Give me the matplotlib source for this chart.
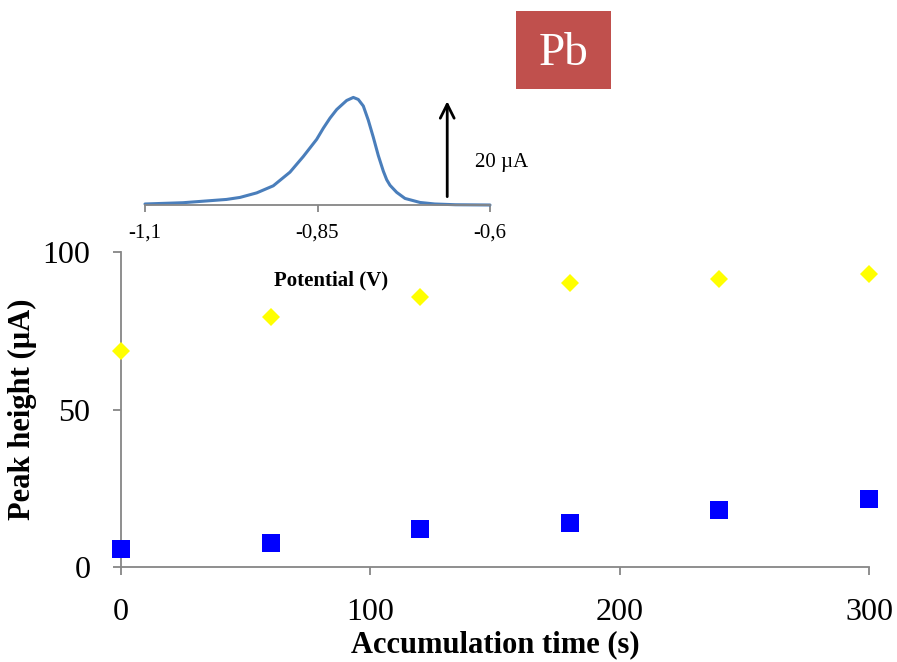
import numpy as np
import matplotlib.pyplot as plt
from matplotlib.patches import Rectangle

plt.rcParams['font.family'] = ['Liberation Serif', 'DejaVu Serif']

# Peak height vs accumulation time
time_s = [0, 60, 120, 180, 240, 300]
peak_yellow = [68.6, 79.4, 85.7, 90.2, 91.4, 93.0]
peak_blue = [5.6, 7.6, 12.1, 14.0, 18.1, 21.6]

# Voltammogram shown in the inset (potential in V, current in uA)
potential = [-1.1, -1.045, -0.982, -0.9623, -0.9381, -0.9141, -0.8899, -0.8706,
             -0.8512, -0.8416, -0.8319, -0.8222, -0.8174, -0.8077, -0.7981,
             -0.7909, -0.7836, -0.7764, -0.7691, -0.7619, -0.7546, -0.7497,
             -0.7449, -0.7352, -0.7232, -0.7014, -0.68, -0.65, -0.6]
current = [0.3, 0.55, 1.2, 1.6, 2.5, 3.9, 6.6, 9.7, 13.1, 15.3, 17.3, 19.0,
           19.6, 20.8, 21.4, 21.0, 19.7, 16.9, 13.5, 9.9, 6.8, 5.1, 4.0, 2.6,
           1.4, 0.6, 0.3, 0.15, 0.1]
scale_bar = 20
scale_x = -0.662

W, H = 897, 662
fig = plt.figure(figsize=(W / 100, H / 100), dpi=100)

#Main plot
ax = fig.add_axes([121 / W, 1 - 567 / H, (869 - 121) / W, (567 - 252) / H])
ax.plot(time_s, peak_yellow, linestyle='none', marker='D', markersize=9.2,
        color='#FFFF00', markeredgewidth=0, clip_on=False, zorder=3)
ax.plot(time_s, peak_blue, linestyle='none', marker='s', markersize=13.5,
        color='#0000FF', markeredgewidth=0, clip_on=False, zorder=3)
ax.set_xlim(0, 300)
ax.set_ylim(0, 100)
ax.set_xticks([0, 100, 200, 300])
ax.set_yticks([0, 50, 100])
for side in ['top', 'right']:
    ax.spines[side].set_visible(False)
for side in ['left', 'bottom']:
    ax.spines[side].set_color('#868686')
    ax.spines[side].set_linewidth(1.3)
ax.tick_params(axis='both', direction='out', length=6, width=1.3,
               color='#868686', labelsize=23)
ax.tick_params(axis='y', pad=16)
ax.tick_params(axis='x', pad=16)
ax.set_xlabel('Accumulation time (s)', fontsize=22, fontweight='bold')
ax.set_ylabel('Peak height (\u00b5A)', fontsize=22, fontweight='bold')
ax.yaxis.set_label_coords(-0.112, 0.5)
ax.xaxis.set_label_coords(0.5, -0.2)

#Inset voltammogram
ins = fig.add_axes([145 / W, 1 - 205.5 / H, 345 / W, 25 * 5.05 / H])
ins.patch.set_alpha(0)
ins.plot(potential, current, color='#4A7EBB', linewidth=2.2, clip_on=False,
         solid_joinstyle='round', solid_capstyle='round')
ins.set_xlim(-1.1, -0.6)
ins.set_ylim(0, 25)
ins.set_xticks([-1.1, -0.85, -0.6])
ins.set_xticklabels(['-1,1', '-0,85', '-0,6'])
ins.set_yticks([])
for side in ['top', 'right', 'left']:
    ins.spines[side].set_visible(False)
ins.spines['bottom'].set_color('#868686')
ins.spines['bottom'].set_linewidth(1.3)
ins.tick_params(axis='x', direction='out', length=5, width=1.3,
                color='#868686', labelsize=15, pad=8)
ins.annotate('', xy=(scale_x, 1.2 + scale_bar), xytext=(scale_x, 1.2),
             arrowprops=dict(arrowstyle='->', color='black', lw=2,
                             mutation_scale=25))
ins.text(scale_x + 0.04, 8.6, '20 \u00b5A', fontsize=15,
         va='center', ha='left')
fig.text(331 / W, 1 - 280 / H, 'Potential (V)', fontsize=15, fontweight='bold',
         ha='center', va='center')

# Element tag
fig.patches.append(Rectangle((516 / W, 1 - 89 / H), 95 / W, 78 / H,
                             transform=fig.transFigure, facecolor='#C0504D',
                             edgecolor='none'))
fig.text(563.5 / W, 1 - 54 / H, 'Pb', fontsize=34, color='white',
         ha='center', va='center')

fig.savefig('out.png', dpi=100)
